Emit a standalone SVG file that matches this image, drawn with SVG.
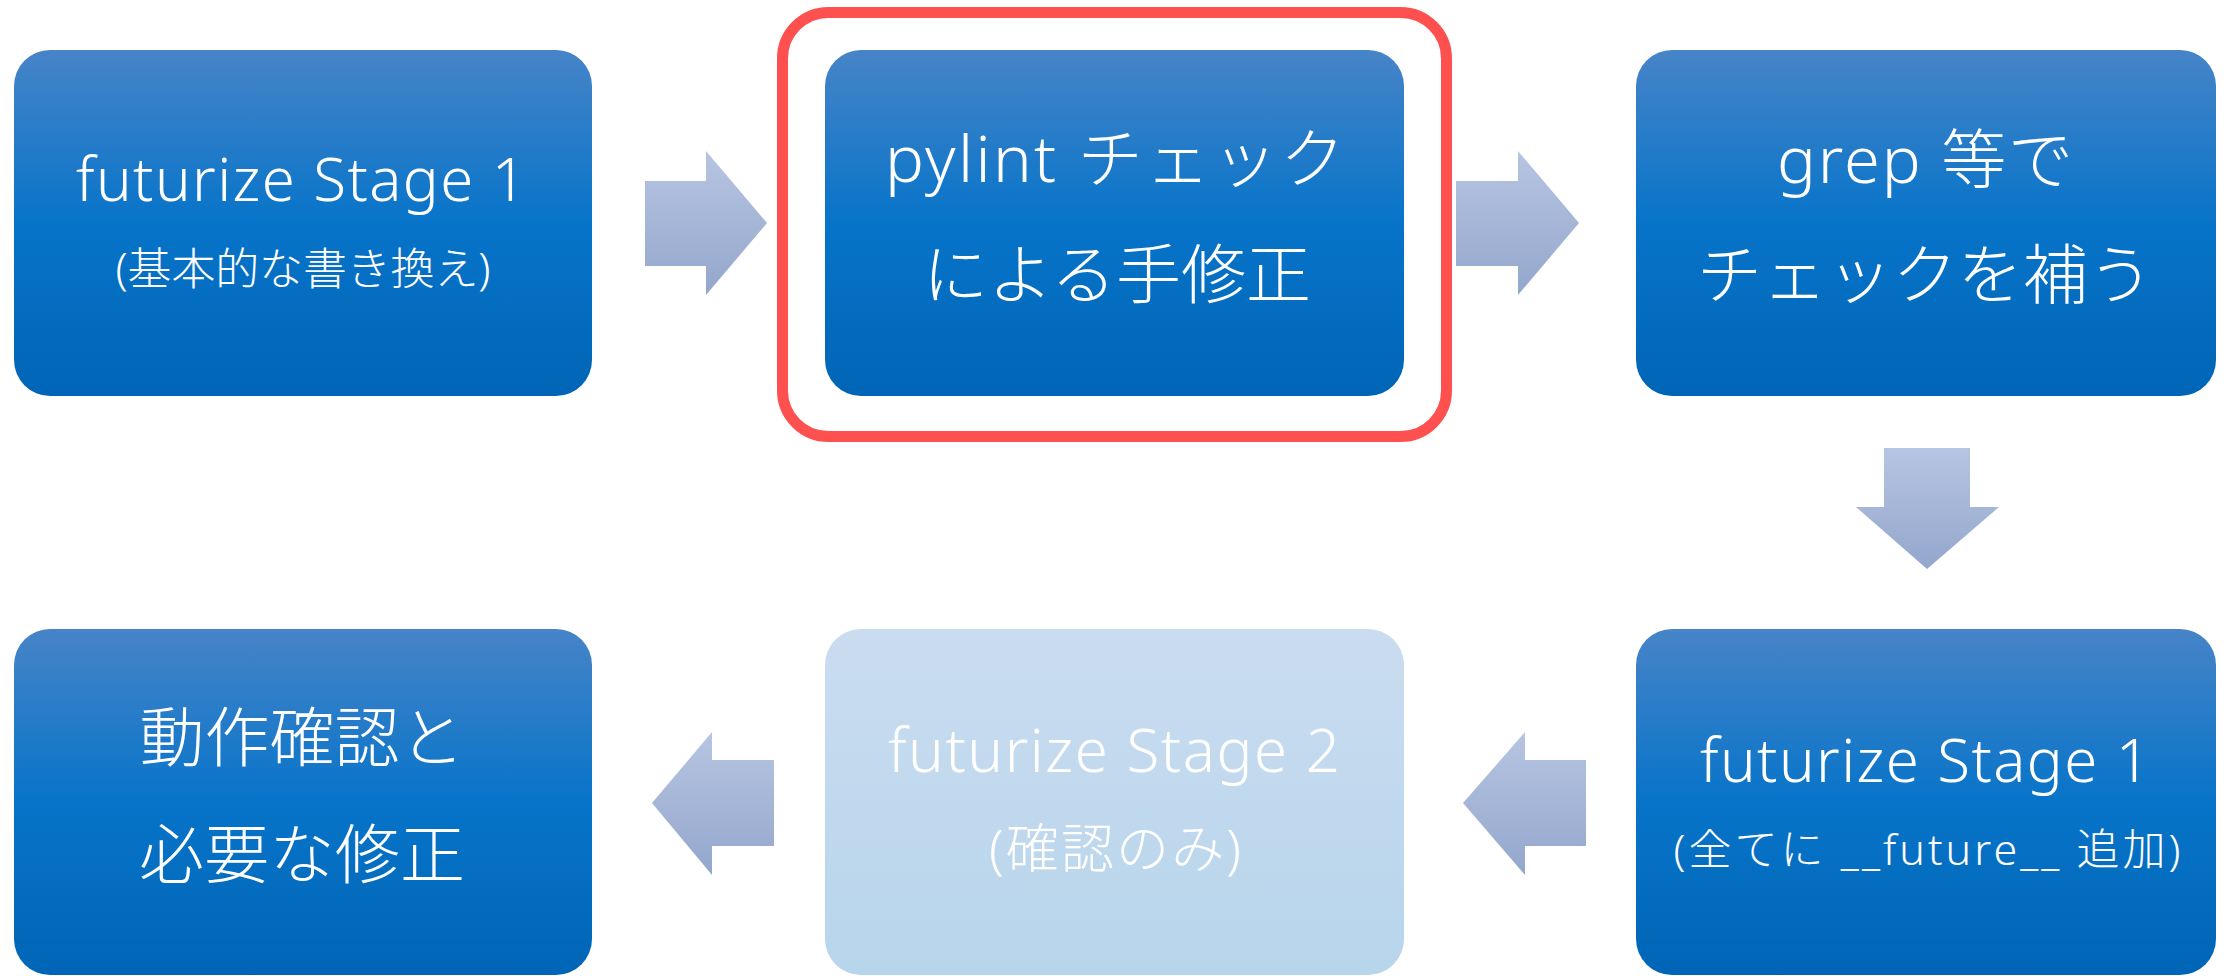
<svg xmlns="http://www.w3.org/2000/svg" width="2231" height="976" viewBox="0 0 2231 976">
<defs>
<linearGradient id="gBox" x1="0" y1="0" x2="0" y2="1">
<stop offset="0" stop-color="#4784c8"/>
<stop offset="0.5" stop-color="#0774c9"/>
<stop offset="1" stop-color="#0065b6"/>
</linearGradient>
<linearGradient id="gLight" x1="0" y1="0" x2="0" y2="1">
<stop offset="0" stop-color="#cadcf0"/>
<stop offset="1" stop-color="#b7d5eb"/>
</linearGradient>
<linearGradient id="gArrow" x1="0" y1="0" x2="0" y2="1">
<stop offset="0" stop-color="#b7c5e2"/>
<stop offset="1" stop-color="#93a6cc"/>
</linearGradient>
</defs>
<style>
.box{fill:url(#gBox);}
.light{fill:url(#gLight);}
.arrow{fill:url(#gArrow);}
.t{fill:#ffffff;font-family:"Noto Sans","Noto Sans CJK JP",sans-serif;font-weight:300;text-anchor:middle;}
.big{font-size:65px;}
.mid{font-size:60px;}
.sm{font-size:44px;}
</style>
<rect x="782.5" y="12.5" width="664" height="424" rx="46" ry="46" fill="none" stroke="#ff5050" stroke-width="11"/>
<g id="connectors">
<path class="arrow" d="M645,181 H706 V151 L767,223 L706,295 V266 H645 Z"/>
<path class="arrow" d="M1456,181 H1518 V151 L1579,223 L1518,295 V266 H1456 Z"/>
<path class="arrow" d="M1884,448 H1970 V507 H1999 L1927,569 L1856,507 H1884 Z"/>
<path class="arrow" d="M1586,760 H1525 V732 L1463,803 L1525,875 V846 H1586 Z"/>
<path class="arrow" d="M774,760 H712 V732 L652,803 L712,875 V846 H774 Z"/>
</g>
<g id="node1">
<rect class="box" x="14" y="50" width="578" height="346" rx="36" ry="36"/>
<text class="t mid" x="301" y="201" textLength="450">futurize Stage 1</text>
<text class="t sm" x="303" y="285" textLength="375">(基本的な書き換え)</text>
</g>
<g id="node2">
<rect class="box" x="825" y="50" width="579" height="346" rx="36" ry="36"/>
<text class="t big" x="1115" y="182" textLength="460">pylint チェック</text>
<text class="t big" x="1117" y="298" textLength="388">による手修正</text>
</g>
<g id="node3">
<rect class="box" x="1636" y="50" width="580" height="346" rx="36" ry="36"/>
<text class="t big" x="1925" y="183" textLength="296">grep 等で</text>
<text class="t big" x="1925" y="298" textLength="456">チェックを補う</text>
</g>
<g id="node4">
<rect class="box" x="14" y="629" width="578" height="346" rx="36" ry="36"/>
<text class="t big" x="302" y="761" textLength="325">動作確認と</text>
<text class="t big" x="302" y="878" textLength="326">必要な修正</text>
</g>
<g id="node5">
<rect class="light" x="825" y="629" width="579" height="346" rx="36" ry="36"/>
<text class="t mid" x="1114" y="772" textLength="452">futurize Stage 2</text>
<text class="t" x="1115" y="868" font-size="53" textLength="252">(確認のみ)</text>
</g>
<g id="node6">
<rect class="box" x="1636" y="629" width="580" height="346" rx="36" ry="36"/>
<text class="t mid" x="1925" y="782" textLength="450">futurize Stage 1</text>
<text class="t" x="1927" y="865" font-size="43" textLength="507">(全てに __future__ 追加)</text>
</g>
</svg>
